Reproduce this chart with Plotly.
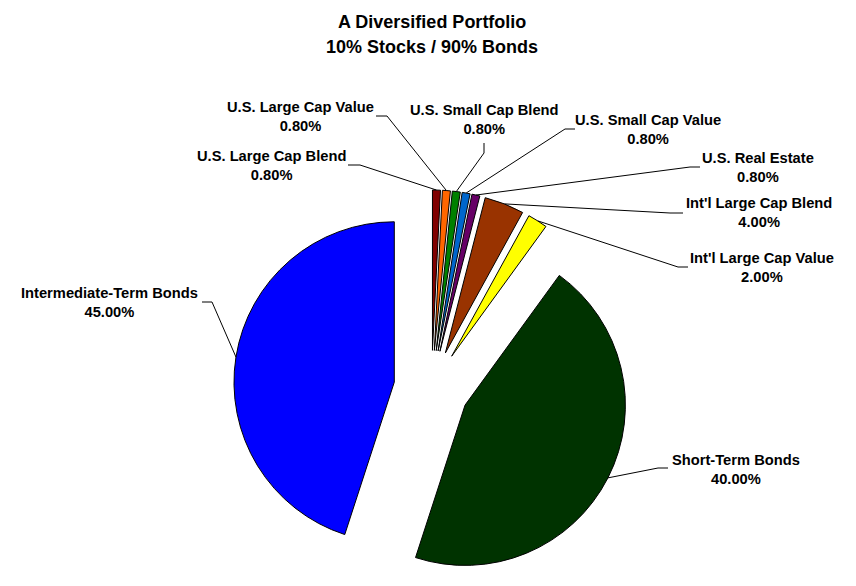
import math
import plotly.graph_objects as go

# ---- data ----
categories = ["U.S. Large Cap Blend", "U.S. Large Cap Value", "U.S. Small Cap Blend",
              "U.S. Small Cap Value", "U.S. Real Estate", "Int'l Large Cap Blend",
              "Int'l Large Cap Value", "Short-Term Bonds", "Intermediate-Term Bonds"]
# slice sizes as drawn in the picture
slice_values = [0.8, 0.8, 0.8, 0.8, 0.8, 4.0, 2.0, 45.0, 45.0]
# percentages printed in the labels
label_pct = [0.80, 0.80, 0.80, 0.80, 0.80, 4.00, 2.00, 40.00, 45.00]
colors = ["#800000", "#FF6600", "#008000", "#0066CC", "#660066",
          "#993300", "#FFFF00", "#003300", "#0000FF"]
title_lines = ["A Diversified Portfolio", "10% Stocks / 90% Bonds"]

# ---- layout constants ----
W, H = 856, 586
PULL = 0.235
DOM_X = [0.2728, 0.7354]
DOM_Y = [0.0, 0.6758]
FONT = "Liberation Sans, Arial, sans-serif"

# label block centres (px) and leader stub (start, end) in px
label_pos = [(271, 165), (300, 116), (484, 120), (648, 129), (758, 167),
             (759, 213), (762, 267), (736, 469), (110, 302)]
stubs = [((348, 165), (360, 165)), ((376, 116), (387, 116)), ((484, 143), (484, 153)),
         ((575, 129), (565, 129)), ((700, 167), (690, 167)), ((683, 213), (670, 213)),
         ((688, 267), (678, 267)), ((668, 468), (658, 468)), ((202, 302), (212, 302))]
title_pos = [(432, 22), (432, 47)]

fig = go.Figure(go.Pie(
    labels=categories, values=slice_values, sort=False, direction="clockwise",
    rotation=0, pull=[PULL] * len(slice_values),
    marker=dict(colors=colors, line=dict(color="black", width=1)),
    textinfo="none", hoverinfo="label+value", showlegend=False,
    domain=dict(x=DOM_X, y=DOM_Y),
))

# pie geometry as plotly computes it (margins are zero)
cx = W * (DOM_X[0] + DOM_X[1]) / 2
cy = H * (1 - (DOM_Y[0] + DOM_Y[1]) / 2)
r = min(W * (DOM_X[1] - DOM_X[0]), H * (DOM_Y[1] - DOM_Y[0])) / 2 / (1 + PULL)

def px2paper(p):
    return p[0] / W, 1 - p[1] / H

total = sum(slice_values)
cum = 0.0
annotations = []
shapes = []
for i, v in enumerate(slice_values):
    mid = (cum + v / 2) / total * 2 * math.pi
    cum += v
    ex = cx + r * (1 + PULL) * math.sin(mid)
    ey = cy - r * (1 + PULL) * math.cos(mid)
    (s0, s1) = stubs[i]
    for a, b in ((s0, s1), (s1, (ex, ey))):
        x0, y0 = px2paper(a)
        x1, y1 = px2paper(b)
        shapes.append(dict(type="line", xref="paper", yref="paper",
                           x0=x0, y0=y0, x1=x1, y1=y1,
                           line=dict(color="black", width=1)))
    lx, ly = px2paper(label_pos[i])
    annotations.append(dict(
        x=lx, y=ly, xref="paper", yref="paper", showarrow=False,
        xanchor="center", yanchor="middle",
        text=f"{categories[i]}<br>{label_pct[i]:.2f}%",
        font=dict(family=FONT, size=14.7, color="black", weight="bold"),
    ))

for t, p in zip(title_lines, title_pos):
    tx, ty = px2paper(p)
    annotations.append(dict(
        x=tx, y=ty, xref="paper", yref="paper", showarrow=False,
        xanchor="center", yanchor="middle", text=t,
        font=dict(family=FONT, size=18, color="black", weight="bold"),
    ))

fig.update_layout(
    width=W, height=H,
    margin=dict(l=0, r=0, t=0, b=0),
    paper_bgcolor="white", plot_bgcolor="white",
    annotations=annotations, shapes=shapes,
)

fig.write_html("out.html")
